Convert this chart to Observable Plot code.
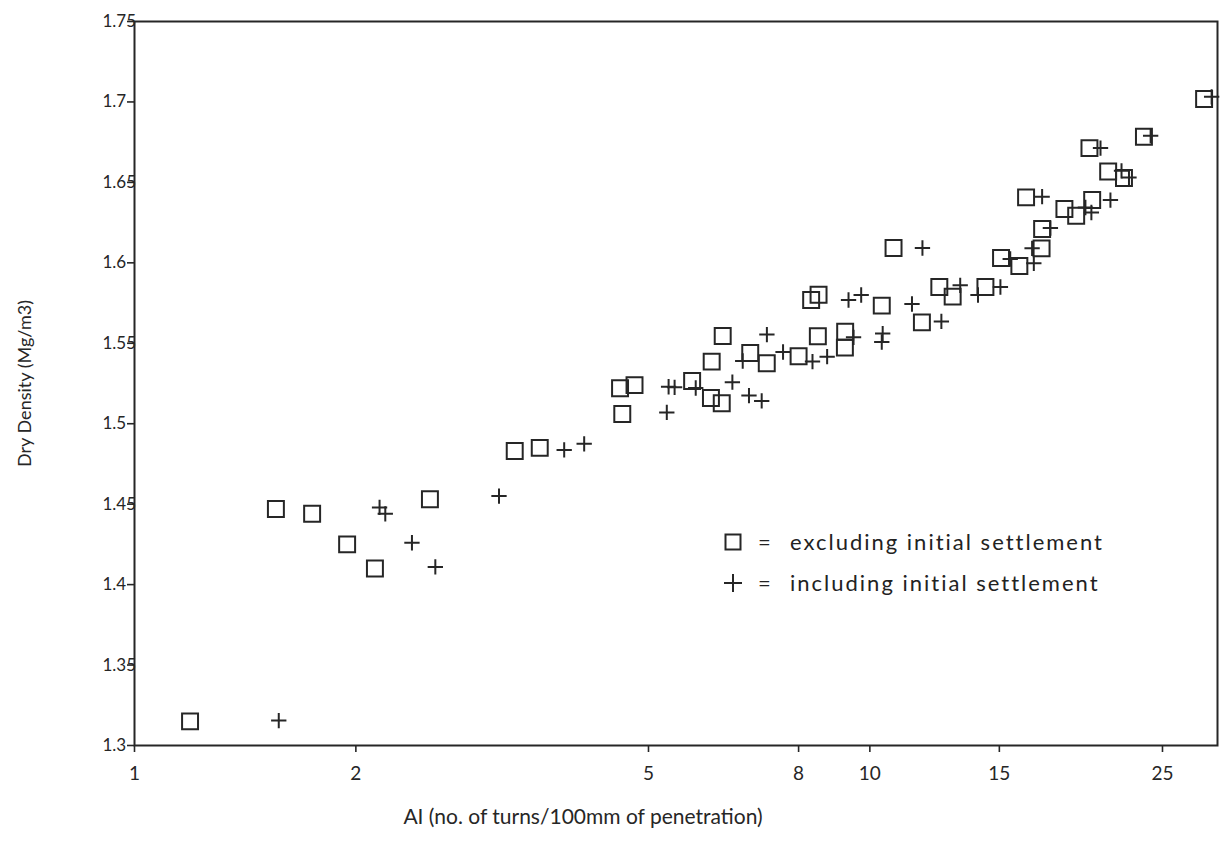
<!DOCTYPE html>
<html>
<head>
<meta charset="utf-8">
<script src="https://cdn.jsdelivr.net/npm/d3@7"></script>
<script src="https://cdn.jsdelivr.net/npm/@observablehq/plot@0.6"></script>
<style>
  html, body { margin: 0; padding: 0; background: #fff; }
  #wrap { position: relative; width: 1224px; height: 845px; font-family: Lato, "DejaVu Sans", sans-serif; color: #222; }
  #legend { position: absolute; left: 722px; top: 521px; font-size: 22px; line-height: 41px; letter-spacing: 2px; }
  #legend .row { display: flex; align-items: center; white-space: nowrap; }
  #legend svg { width: 22px; height: 22px; margin-right: 14px; }
  #legend .eq { width: 32px; }
</style>
</head>
<body>
<div id="wrap"></div>
<script>
// Excluding initial settlement (squares)
const exclAI = [1.19, 1.557, 1.744, 1.946, 2.123, 2.522, 3.289, 3.557, 4.574, 4.786, 4.606,
  5.732, 6.08, 6.289, 6.094, 6.308, 6.876, 7.241, 8.0, 8.497, 9.256, 9.248, 8.321, 8.516,
  10.38, 10.77, 11.77, 12.43, 12.96, 14.36, 15.08, 15.97, 17.12, 17.15, 16.31, 18.39, 19.08,
  20.06, 19.89, 21.09, 22.16, 23.59, 28.48];
const exclDensity = [1.315, 1.447, 1.444, 1.425, 1.410, 1.453, 1.483, 1.485, 1.522, 1.524, 1.506,
  1.5265, 1.516, 1.5127, 1.5386, 1.5545, 1.544, 1.5376, 1.5419, 1.5544, 1.5572, 1.5473, 1.5769, 1.5802,
  1.5734, 1.6092, 1.563, 1.585, 1.579, 1.585, 1.603, 1.598, 1.609, 1.621, 1.6407, 1.6334, 1.6293,
  1.639, 1.6713, 1.6568, 1.6527, 1.6784, 1.7018];

// Including initial settlement (pluses)
const inclAI = [1.571, 2.154, 2.193, 2.384, 2.565, 3.131, 3.84, 4.088, 5.295, 5.325, 5.426,
  5.797, 6.502, 6.849, 7.127, 6.716, 7.244, 7.62, 8.356, 8.748, 9.502, 10.41, 10.38, 9.354,
  9.732, 11.41, 12.51, 11.79, 13.27, 14.03, 15.05, 15.52, 16.71, 16.62, 17.6, 17.15, 19.64,
  20.01, 21.24, 20.59, 21.99, 22.51, 24.09, 29.16];
const inclDensity = [1.3155, 1.448, 1.444, 1.426, 1.411, 1.455, 1.4837, 1.4875, 1.507, 1.523, 1.5226,
  1.5222, 1.5258, 1.5175, 1.5142, 1.539, 1.5554, 1.5446, 1.5386, 1.5417, 1.5537, 1.556, 1.5508, 1.5769,
  1.580, 1.5744, 1.5636, 1.6092, 1.586, 1.580, 1.585, 1.6024, 1.5997, 1.609, 1.6216, 1.6411, 1.6344,
  1.6313, 1.639, 1.6713, 1.6572, 1.6531, 1.679, 1.7032];

const xTicks = [1, 2, 5, 8, 10, 15, 25];
const yTicks = [1.3, 1.35, 1.4, 1.45, 1.5, 1.55, 1.6, 1.65, 1.7, 1.75];
const xLabel = "AI (no. of turns/100mm of penetration)";
const yLabel = "Dry Density (Mg/m3)";
const legendLabels = ["excluding initial settlement", "including initial settlement"];

const excl = exclAI.map((v, i) => ({ai: v, density: exclDensity[i]}));
const incl = inclAI.map((v, i) => ({ai: v, density: inclDensity[i]}));

const ink = "#262626";

const chart = Plot.plot({
  width: 1224,
  height: 845,
  marginLeft: 134,
  marginRight: 7,
  marginTop: 21,
  marginBottom: 100,
  style: {fontFamily: "Lato, 'DejaVu Sans', sans-serif", fontSize: "19px", color: ink, background: "#fff", overflow: "visible"},
  x: {type: "log", domain: [1, 29.7]},
  y: {domain: [1.3, 1.75]},
  marks: [
    Plot.axisX({ticks: xTicks, tickSize: 7, tickPadding: 14, tickFormat: d => String(d), label: null, strokeWidth: 1.6}),
    Plot.axisY({ticks: yTicks, tickSize: 7, tickFormat: () => "", label: null, strokeWidth: 1.6}),
    Plot.axisY({ticks: yTicks, tickSize: 0, tickPadding: 10, textAnchor: "start", dx: -22, fontSize: 17,
      tickFormat: d => String(+d.toFixed(2)), label: null}),
    Plot.frame({stroke: ink, strokeWidth: 2}),
    Plot.text([xLabel], {frameAnchor: "bottom", dy: 78, dx: -93, text: d => d, fontSize: 21, fill: ink}),
    Plot.text([yLabel], {frameAnchor: "left", rotate: -90, textAnchor: "middle", dx: -109, text: d => d, fontSize: 18, fill: ink}),
    Plot.dot(excl, {x: "ai", y: "density", symbol: "square", r: 9, stroke: ink, strokeWidth: 2, fill: "none"}),
    Plot.dot(incl, {x: "ai", y: "density", symbol: "plus", r: 5, stroke: ink, strokeWidth: 2})
  ]
});

const wrap = document.getElementById("wrap");
wrap.appendChild(chart);

const legend = document.createElement("div");
legend.id = "legend";
const sqSvg = `<svg viewBox="-11 -11 22 22"><rect x="-7.5" y="-7.5" width="15" height="15" fill="none" stroke="${ink}" stroke-width="2"/></svg>`;
const plSvg = `<svg viewBox="-11 -11 22 22"><path d="M-9,0H9M0,-9V9" stroke="${ink}" stroke-width="2"/></svg>`;
legend.innerHTML = `
  <div class="row">${sqSvg}<span class="eq">=</span><span>${legendLabels[0]}</span></div>
  <div class="row">${plSvg}<span class="eq">=</span><span>${legendLabels[1]}</span></div>`;
wrap.appendChild(legend);
</script>
</body>
</html>
